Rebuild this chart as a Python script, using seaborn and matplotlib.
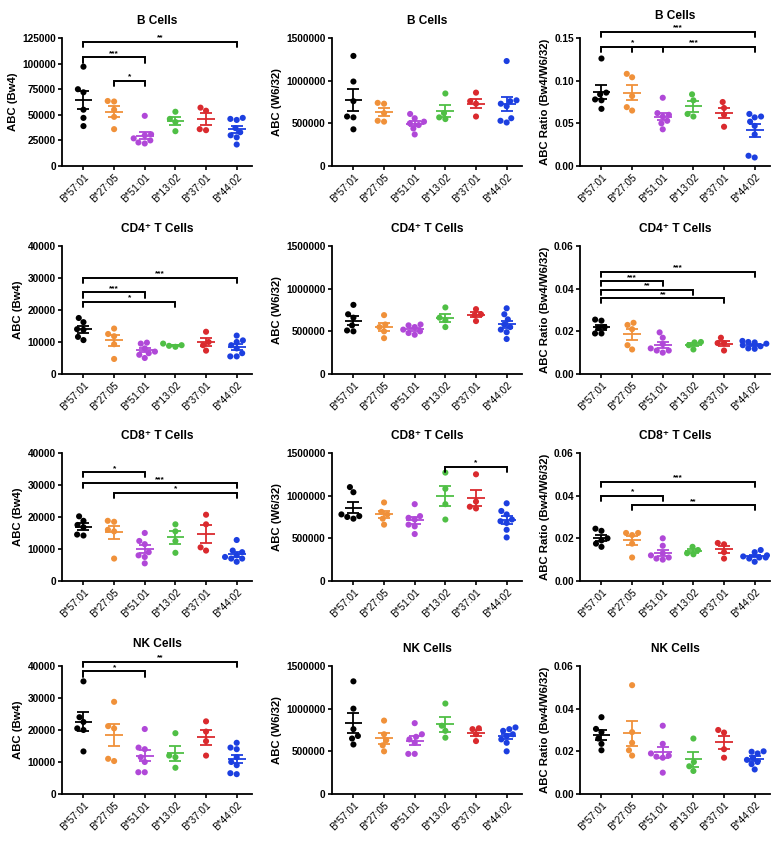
import numpy as np
import pandas as pd
import seaborn as sns
import matplotlib.pyplot as plt

groups = ["B*57:01", "B*27:05", "B*51:01", "B*13:02", "B*37:01", "B*44:02"]
colors = ["#000000", "#F0913A", "#B048D8", "#4FBF45", "#DA2A2E", "#1C3FE0"]

# B cells
b_bw4 = [[97000, 75000, 72000, 55000, 47000, 39000],
         [63000, 63500, 55000, 48000, 36000],
         [49000, 31000, 30000, 27000, 25000, 23000, 22000],
         [53000, 46000, 43000, 34000],
         [57000, 54000, 36000, 35000],
         [47000, 46000, 45000, 37000, 33000, 30000, 28000, 21000]]
b_w632 = [[1290000, 990000, 760000, 580000, 570000, 430000],
          [740000, 730000, 620000, 530000, 520000],
          [610000, 560000, 520000, 500000, 480000, 440000, 370000],
          [850000, 620000, 570000, 550000],
          [860000, 760000, 730000, 580000],
          [1230000, 770000, 760000, 730000, 700000, 560000, 530000, 510000]]
b_ratio = [[0.126, 0.086, 0.084, 0.078, 0.077, 0.067],
           [0.108, 0.104, 0.082, 0.069, 0.065],
           [0.080, 0.062, 0.060, 0.058, 0.053, 0.050, 0.043],
           [0.084, 0.077, 0.061, 0.058],
           [0.075, 0.068, 0.060, 0.046],
           [0.061, 0.058, 0.057, 0.052, 0.047, 0.037, 0.012, 0.010]]

# CD4+ T cells
cd4_bw4 = [[17500, 16200, 14000, 13800, 11600, 10600],
           [14200, 12500, 11800, 9300, 4700],
           [9800, 9500, 8000, 7000, 6500, 6000, 5000],
           [9500, 9000, 8800, 8500],
           [13200, 10000, 9000, 7300],
           [12000, 10500, 10000, 9000, 8000, 6500, 5500, 5500]]
cd4_w632 = [[810000, 700000, 660000, 570000, 510000, 500000],
            [690000, 580000, 550000, 500000, 420000],
            [580000, 570000, 550000, 520000, 500000, 480000, 460000],
            [780000, 660000, 630000, 550000],
            [760000, 700000, 690000, 620000],
            [770000, 700000, 640000, 580000, 550000, 520000, 490000, 410000]]
cd4_ratio = [[0.0255, 0.025, 0.022, 0.0215, 0.019, 0.019],
             [0.024, 0.023, 0.021, 0.0135, 0.0115],
             [0.0195, 0.017, 0.014, 0.012, 0.011, 0.010, 0.011],
             [0.015, 0.0148, 0.0135, 0.0115],
             [0.017, 0.0145, 0.0145, 0.011],
             [0.0155, 0.015, 0.0148, 0.0142, 0.0135, 0.013, 0.012, 0.0118]]

# CD8+ T cells
cd8_bw4 = [[20200, 18800, 17500, 16800, 14500, 14200],
           [18800, 18500, 16000, 15500, 7000],
           [15000, 12500, 11500, 9000, 8000, 7500, 5500],
           [17700, 15500, 12500, 8800],
           [20700, 17700, 10500, 9500],
           [12800, 9500, 9000, 8000, 7500, 7000, 7000, 6000]]
cd8_w632 = [[1100000, 1040000, 780000, 760000, 730000, 750000],
            [920000, 810000, 780000, 730000, 660000],
            [900000, 760000, 740000, 720000, 660000, 640000, 550000],
            [1270000, 1080000, 900000, 720000],
            [1250000, 930000, 870000, 850000],
            [910000, 820000, 780000, 720000, 700000, 680000, 600000, 510000]]
cd8_ratio = [[0.0245, 0.0235, 0.020, 0.019, 0.0175, 0.016],
             [0.0225, 0.0225, 0.0215, 0.0175, 0.011],
             [0.020, 0.0165, 0.013, 0.012, 0.011, 0.010, 0.0105],
             [0.016, 0.0145, 0.013, 0.0125],
             [0.0178, 0.0172, 0.0135, 0.0105],
             [0.0145, 0.0135, 0.012, 0.0115, 0.011, 0.011, 0.0105, 0.009]]

# NK cells
nk_bw4 = [[35200, 24000, 22500, 20500, 20000, 13300],
          [28800, 21200, 20500, 11000, 10300],
          [20300, 14500, 14000, 11500, 10000, 6800, 6800],
          [19000, 12000, 11500, 8200],
          [22700, 19500, 16500, 12000],
          [16000, 14500, 14000, 11500, 10000, 9000, 6500, 6200]]
nk_w632 = [[1320000, 1000000, 760000, 680000, 650000, 580000],
           [860000, 700000, 630000, 570000, 500000],
           [830000, 700000, 670000, 640000, 600000, 470000, 470000],
           [1060000, 800000, 740000, 660000],
           [770000, 760000, 700000, 620000],
           [780000, 760000, 740000, 700000, 680000, 640000, 600000, 500000]]
nk_ratio = [[0.036, 0.0305, 0.029, 0.026, 0.0235, 0.0205],
            [0.051, 0.029, 0.024, 0.0205, 0.018],
            [0.032, 0.0235, 0.019, 0.018, 0.0175, 0.017, 0.010],
            [0.026, 0.015, 0.013, 0.0108],
            [0.030, 0.0288, 0.021, 0.017],
            [0.020, 0.0198, 0.019, 0.017, 0.016, 0.015, 0.014, 0.0115]]

# significance brackets: (group i, group j, y, label)
sig_b_bw4 = [(0, 5, 121000, "**"), (0, 2, 106000, "***"), (1, 2, 83000, "*")]
sig_b_ratio = [(0, 5, 0.157, "***"), (0, 2, 0.14, "*"), (1, 5, 0.14, "***")]
sig_cd4_bw4 = [(0, 5, 30000, "***"), (0, 2, 25500, "***"), (0, 3, 22500, "*")]
sig_cd4_ratio = [(0, 5, 0.048, "***"), (0, 2, 0.0435, "***"),
                 (0, 3, 0.0395, "**"), (0, 4, 0.0355, "**")]
sig_cd8_bw4 = [(0, 2, 34000, "*"), (0, 5, 30500, "***"), (1, 5, 27500, "*")]
sig_cd8_w632 = [(3, 5, 1340000, "*")]
sig_cd8_ratio = [(0, 5, 0.0465, "***"), (0, 2, 0.040, "*"), (1, 5, 0.0355, "**")]
sig_nk_bw4 = [(0, 5, 41300, "**"), (0, 2, 38300, "*")]

titles = ["B Cells", "CD4\u207a T Cells", "CD8\u207a T Cells", "NK Cells"]
ylabels = ["ABC (Bw4)", "ABC (W6/32)", "ABC Ratio (Bw4/W6/32)"]

bw4_ticks_b = [0, 25000, 50000, 75000, 100000, 125000]
bw4_ticks = [0, 10000, 20000, 30000, 40000]
w632_ticks = [0, 500000, 1000000, 1500000]
ratio_ticks_b = [0.00, 0.05, 0.10, 0.15]
ratio_ticks = [0.00, 0.02, 0.04, 0.06]

panels = [
    [(b_bw4, bw4_ticks_b, sig_b_bw4), (b_w632, w632_ticks, []), (b_ratio, ratio_ticks_b, sig_b_ratio)],
    [(cd4_bw4, bw4_ticks, sig_cd4_bw4), (cd4_w632, w632_ticks, []), (cd4_ratio, ratio_ticks, sig_cd4_ratio)],
    [(cd8_bw4, bw4_ticks, sig_cd8_bw4), (cd8_w632, w632_ticks, sig_cd8_w632), (cd8_ratio, ratio_ticks, sig_cd8_ratio)],
    [(nk_bw4, bw4_ticks, sig_nk_bw4), (nk_w632, w632_ticks, []), (nk_ratio, ratio_ticks, [])],
]

sns.set_style("ticks")
plt.rcParams['font.family'] = ['Liberation Sans', 'DejaVu Sans']
# pure black text and axes like the Prism original
plt.rcParams.update({"text.color": "black", "axes.labelcolor": "black",
                     "axes.edgecolor": "black", "xtick.color": "black",
                     "ytick.color": "black"})

fig = plt.figure(figsize=(7.8, 8.41), dpi=100)

lefts = [0.0795, 0.4256, 0.7436]
bottoms = [0.8026, 0.5553, 0.3092, 0.0559]
w, h = 0.2436, 0.1522

for r, row in enumerate(panels):
    for c, (vals, yticks, sigs) in enumerate(row):
        ax = fig.add_axes([lefts[c], bottoms[r], w, h])
        df = pd.DataFrame({"allele": [g for g, v in zip(groups, vals) for _ in v],
                           "abc": [x for v in vals for x in v]})
        sns.swarmplot(data=df, x="allele", y="abc", hue="allele", order=groups,
                      hue_order=groups, palette=colors, size=4.4, legend=False,
                      linewidth=0, ax=ax, zorder=2)
        # mean +/- SEM
        stats = df.groupby("allele", sort=False)["abc"].agg(["mean", "sem"]).reindex(groups)
        for i, g in enumerate(groups):
            m, s = stats.loc[g, "mean"], stats.loc[g, "sem"]
            ax.hlines(m, i - 0.29, i + 0.29, color=colors[i], lw=1.3, zorder=3)
            ax.errorbar(i, m, yerr=s, color=colors[i], capsize=4.2, capthick=1.3,
                        elinewidth=1.3, fmt="none", zorder=3)
        ymax = yticks[-1]
        tl = 0.04 * ymax
        for i, j, y, lab in sigs:
            ax.plot([i, i, j, j], [y - tl, y, y, y - tl], color="black", lw=1.4,
                    clip_on=False, solid_joinstyle="miter")
            ax.text((i + j) / 2, y + 0.003 * ymax, lab, ha="center", va="bottom",
                    fontsize=6, fontweight="bold")
        ax.set_xlim(-0.7, 5.5)
        ax.set_ylim(0, ymax)
        ax.set_yticks(yticks)
        if ymax < 1:
            ax.set_yticklabels([f"{t:.2f}" for t in yticks])
        else:
            ax.set_yticklabels([f"{t:d}" for t in yticks])
        ax.set_xticks(range(len(groups)))
        ax.set_xticklabels(groups, rotation=45, ha="right", rotation_mode="anchor",
                           fontsize=7.2)
        for lab in ax.get_yticklabels():
            lab.set_fontsize(7.3)
            lab.set_fontweight("bold")
        ax.tick_params(axis="both", length=3, width=1.2, pad=1.5)
        ax.set_xlabel("")
        ax.set_ylabel(ylabels[c], fontsize=8.2, fontweight="bold", labelpad=3)
        # titles sit higher when a bracket rises above the axes
        top_sig = max([s[2] for s in sigs], default=0)
        ax.set_title(titles[r], fontsize=8.6, fontweight="bold",
                     pad=14 if top_sig > ymax else 10)
        for sp in ["left", "bottom"]:
            ax.spines[sp].set_linewidth(1.3)
        sns.despine(ax=ax)

fig.savefig("out.png", dpi=100)
